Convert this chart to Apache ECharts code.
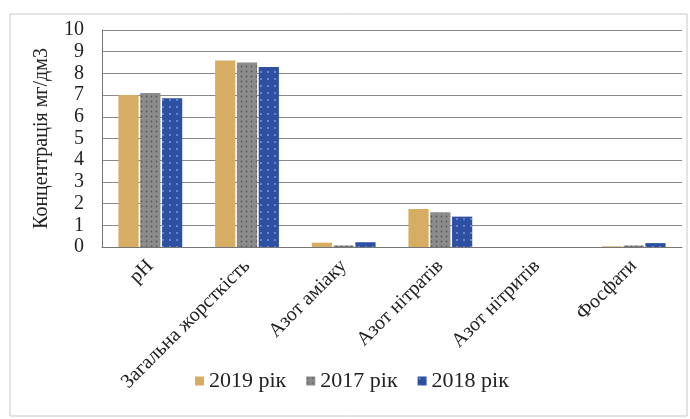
<!DOCTYPE html>
<html>
<head>
<meta charset="utf-8">
<script src="https://cdn.jsdelivr.net/npm/echarts@6/dist/echarts.min.js"></script>
<style>
  html, body { margin: 0; padding: 0; background: #fff; }
  #chart { width: 690px; height: 419px; }
</style>
</head>
<body>
<div id="chart"></div>
<script>
// дані з діаграми
var categories = ['pH', 'Загальна жорсткість', 'Азот аміаку', 'Азот нітратів', 'Азот нітритів', 'Фосфати'];
var seriesNames = ['2019 рік', '2017 рік', '2018 рік'];
var data2019 = [7.0, 8.6, 0.2, 1.75, 0, 0.03];
var data2017 = [7.1, 8.5, 0.07, 1.6, 0, 0.07];
var data2018 = [6.85, 8.3, 0.22, 1.4, 0, 0.18];
var yTicks = [0, 10, 1];

var chart = echarts.init(document.getElementById('chart'));
var font = 'Liberation Serif';

var option = {
  backgroundColor: '#fff',
  color: ['#D6AD62', '#8C8C8C', '#2D50A3'],
  graphic: [{
    type: 'rect',
    shape: { x: 10, y: 14, width: 677, height: 402 },
    style: { fill: 'none', stroke: '#c8c8c8', lineWidth: 1 }
  }],
  legend: {
    bottom: 22,
    left: 190,
    itemWidth: 9,
    itemHeight: 9,
    itemGap: 20,
    icon: 'rect',
    textStyle: { fontFamily: font, fontSize: 22, color: '#222' },
    data: seriesNames
  },
  grid: {
    left: 102,
    right: 8,
    top: 30,
    bottom: 172
  },
  xAxis: {
    type: 'category',
    data: categories,
    axisTick: { show: false },
    axisLine: { lineStyle: { color: '#777' } },
    axisLabel: {
      rotate: 45,
      interval: 0,
      margin: 16,
      fontFamily: font,
      fontSize: 20,
      color: '#222'
    }
  },
  yAxis: {
    type: 'value',
    min: yTicks[0],
    max: yTicks[1],
    interval: yTicks[2],
    name: 'Концентрація мг/дм3',
    nameLocation: 'middle',
    nameGap: 50,
    nameTextStyle: { fontFamily: font, fontSize: 20, color: '#222' },
    axisLine: { show: true, lineStyle: { color: '#777' } },
    axisTick: { show: false },
    axisLabel: { fontFamily: font, fontSize: 20, color: '#222', margin: 18 },
    splitLine: { lineStyle: { color: '#888', width: 1 } }
  },
  series: [
    { name: seriesNames[0], type: 'bar', data: data2019, barGap: '8%', barCategoryGap: '34%' },
    { name: seriesNames[1], type: 'bar', data: data2017, barGap: '8%', barCategoryGap: '34%',
      itemStyle: { decal: { symbol: 'circle', symbolSize: 0.6, color: 'rgba(30,30,30,0.45)', dashArrayX: [3, 2], dashArrayY: [3, 2] } } },
    { name: seriesNames[2], type: 'bar', data: data2018, barGap: '8%', barCategoryGap: '34%',
      itemStyle: { decal: { symbol: 'rect', symbolSize: 0.5, color: 'rgba(170,200,255,0.45)', dashArrayX: [4, 3], dashArrayY: [4, 3] } } }
  ]
};

chart.setOption(option);
</script>
</body>
</html>
